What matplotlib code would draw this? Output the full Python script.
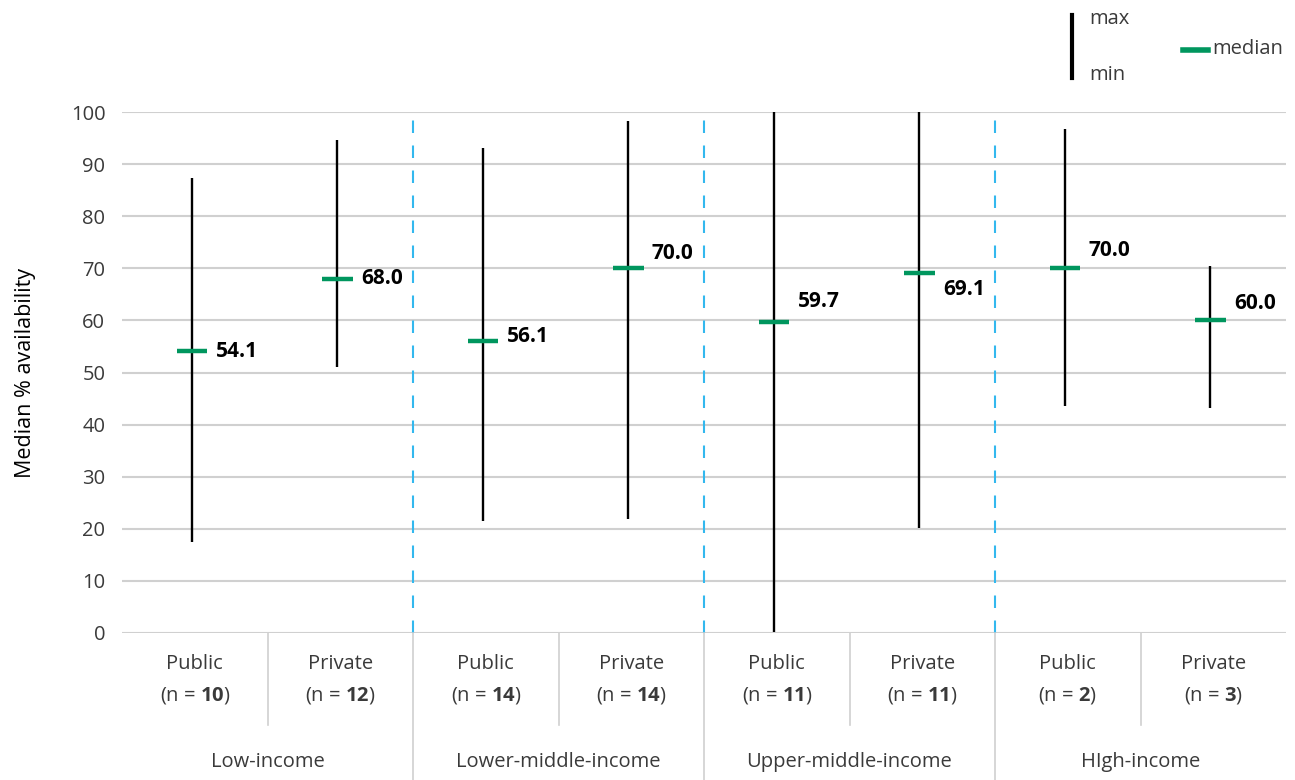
import matplotlib
matplotlib.use("Agg")
import matplotlib.pyplot as plt
import matplotlib.transforms as mtransforms
import numpy as np

plt.rcParams['font.family'] = ['Open Sans', 'DejaVu Sans']
plt.rcParams['mathtext.fontset'] = 'custom'
plt.rcParams['mathtext.rm'] = 'Open Sans'
plt.rcParams['mathtext.bf'] = 'Open Sans:bold'

# ---- data ----
groups = ["Low-income", "Lower-middle-income", "Upper-middle-income", "HIgh-income"]
sectors = ["Public", "Private", "Public", "Private", "Public", "Private", "Public", "Private"]
n_counts = [10, 12, 14, 14, 11, 11, 2, 3]
medians = [54.1, 68.0, 56.1, 70.0, 59.7, 69.1, 70.0, 60.0]
maxs = [87.4, 94.6, 93.1, 98.3, 100.0, 100.0, 96.7, 70.5]
mins = [17.5, 51.0, 21.5, 21.9, 0.2, 20.2, 43.6, 43.2]
yticks = [0, 10, 20, 30, 40, 50, 60, 70, 80, 90, 100]

# label vertical offsets (points) - style only
label_dy = [0, 0, 3, 11, 15, -12, 13, 12]

GREEN = "#00965E"
BLUE = "#33B8EE"
GRID = "#D0D0D0"
TXT = "#3A3A3A"

FS = 14.5

fig = plt.figure(figsize=(12.95, 7.8), dpi=100)
ax = fig.add_axes([122/1295, 1-633/780, (1286-122)/1295, (633-112)/780])

x = np.arange(len(medians)) - 0.02
ax.set_xlim(-0.5, 7.5)
ax.set_ylim(0, 100)

ax.set_yticks(yticks)
ax.yaxis.grid(True, color=GRID, linewidth=1.5)
ax.set_axisbelow(True)
ax.tick_params(axis='y', length=0, pad=12, labelsize=FS, labelcolor=TXT)
ax.set_xticks([])
for s in ax.spines.values():
    s.set_visible(False)

# group separators (dashed inside plot)
for sep in [1.5, 3.5, 5.5]:
    ax.axvline(sep, color=BLUE, linewidth=1.5, linestyle=(0, (6, 6)), zorder=1)

ax.vlines(x, mins, maxs, color="black", linewidth=1.7, zorder=3)
ax.hlines(medians, x - 0.105, x + 0.105, color=GREEN, linewidth=3.2, zorder=4)

for xi, m, dy in zip(x, medians, label_dy):
    ax.annotate(f"{m:.1f}", (xi + 0.105, m), xytext=(6, dy), textcoords="offset points",
                ha="left", va="center", fontsize=15, fontweight="bold", color="black")

ax.set_ylabel("Median % availability", fontsize=15.5, color="black", labelpad=25)

# category axis below
trans = mtransforms.blended_transform_factory(ax.transData, ax.transAxes)
ah = 633 - 112
for i, (sec, n) in enumerate(zip(sectors, n_counts)):
    ax.text(i, -(664 - 633) / ah, sec, transform=trans, ha="center", va="center",
            fontsize=FS, color=TXT, clip_on=False)
    ax.text(i, -(696 - 633) / ah, f"(n = $\\mathbf{{{n}}}$)", transform=trans, ha="center",
            va="center", fontsize=FS, color=TXT, clip_on=False)
for g, name in enumerate(groups):
    ax.text(2 * g + 0.5, -(762 - 633) / ah, name, transform=trans, ha="center", va="center",
            fontsize=FS, color=TXT, clip_on=False)
# short separators between sectors
for g in range(4):
    ax.plot([2 * g + 0.5, 2 * g + 0.5], [0, -(725 - 633) / ah], transform=trans,
            color=GRID, linewidth=1.2, clip_on=False)
for sep in [1.5, 3.5, 5.5]:
    ax.plot([sep, sep], [0, -(780 - 633) / ah], transform=trans,
            color=GRID, linewidth=1.2, clip_on=False)

# legend (manual)
fig.add_artist(plt.Line2D([1072/1295, 1072/1295], [1-15/780, 1-78/780], color="black",
                          linewidth=3, transform=fig.transFigure))
fig.text(1089/1295, 1-19/780, "max", ha="left", va="center", fontsize=FS, color=TXT)
fig.text(1089/1295, 1-75/780, "min", ha="left", va="center", fontsize=FS, color=TXT)
fig.add_artist(plt.Line2D([1183/1295, 1208/1295], [1-50/780, 1-50/780], color=GREEN,
                          linewidth=4, transform=fig.transFigure))
fig.text(1212/1295, 1-49/780, "median", ha="left", va="center", fontsize=FS, color=TXT)

fig.savefig("out.png", dpi=100)
